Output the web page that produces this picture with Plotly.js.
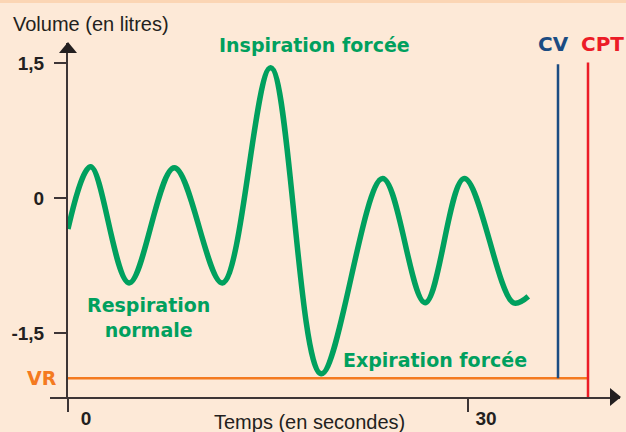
<!DOCTYPE html>
<html>
<head>
<meta charset="utf-8">
<script src="https://cdn.plot.ly/plotly-3.0.1.min.js"></script>
<style>
  html, body { margin: 0; padding: 0; background: #fde9d7; }
  #chart { width: 626px; height: 432px; }
</style>
</head>
<body>
<div id="chart"></div>
<script>
// Temps (s) and Volume (L) of the spirogram curve (turning points)
const timeSec = [0, 1.70, 4.58, 7.97, 11.57, 15.20, 18.98, 23.60, 26.78, 29.72, 33.40, 34.52];
const volumeL = [-0.34, 0.35, -0.94, 0.34, -0.94, 1.45, -1.95, 0.22, -1.16, 0.22, -1.16, -1.09];

// Reference levels
const vrLevel = -2.0;          // volume résiduel
const cvTime = 36.75;          // position of CV bar
const cptTime = 39.0;          // position of CPT bar
const cvRange = [vrLevel, 1.49];
const cptRange = [-2.208, 1.51];
const vrRange = [0, cptTime];

// Axis ticks
const yTickVals = [-1.5, 0, 1.5];
const yTickText = ['-1,5', '0', '1,5'];
const xTickVals = [0, 30];
const xTickText = ['0', '30'];

const AX = '#3d3536';
const TXT = '#231f20';
const GREEN = '#00a05e';
const BG = '#fde9d7';

const traces = [
  { x: vrRange, y: [vrLevel, vrLevel], mode: 'lines', line: { color: '#f47a20', width: 2.5 }, hoverinfo: 'skip' },
  { x: [cvTime, cvTime], y: cvRange, mode: 'lines', line: { color: '#1b4c82', width: 2.5 }, hoverinfo: 'skip' },
  { x: [cptTime, cptTime], y: cptRange, mode: 'lines', line: { color: '#ec1c27', width: 2.5 }, hoverinfo: 'skip' },
  { x: timeSec, y: volumeL, mode: 'lines', line: { color: GREEN, width: 5.5, shape: 'spline', smoothing: 1 }, hoverinfo: 'skip' }
];

// helpers to convert pixel positions (outside plot) to paper coords
const L = 68, R = 620, T = 43, B = 397;
const px = v => (v - L) / (R - L);
const py = v => (B - v) / (B - T);

const boldFont = (size, color) => ({ family: 'DejaVu Sans', size: size, color: color, weight: 'bold' });

const layout = {
  width: 626, height: 432,
  margin: { l: L, r: 626 - R, t: T, b: 432 - B, pad: 0 },
  paper_bgcolor: BG, plot_bgcolor: BG,
  showlegend: false,
  hovermode: false,
  xaxis: {
    range: [0, 41.4], showgrid: false, zeroline: false,
    showline: true, linecolor: AX, linewidth: 2,
    ticks: 'outside', ticklen: 13, tickwidth: 2, tickcolor: AX,
    tickvals: xTickVals, ticktext: xTickText,
    ticklabelshift: 18, ticklabelstandoff: -10,
    tickfont: { family: 'Liberation Sans', size: 19, color: TXT, weight: 'bold' },
    fixedrange: true
  },
  yaxis: {
    range: [-2.208, 1.726], showgrid: false, zeroline: false,
    showline: true, linecolor: AX, linewidth: 2,
    ticks: 'outside', ticklen: 12, tickwidth: 2, tickcolor: AX,
    tickvals: yTickVals, ticktext: yTickText,
    ticklabelstandoff: 6,
    tickfont: { family: 'Liberation Sans', size: 19, color: TXT, weight: 'bold' },
    fixedrange: true
  },
  shapes: [
    { type: 'rect', xref: 'paper', yref: 'paper', x0: px(0), x1: px(626), y0: py(3), y1: py(0), fillcolor: '#fbd5b4', line: { width: 0 } },
    { type: 'path', xref: 'paper', yref: 'paper', path: `M ${px(68)} ${py(42)} L ${px(59)} ${py(53)} L ${px(77)} ${py(53)} Z`, fillcolor: '#231f20', line: { width: 0 } },
    { type: 'path', xref: 'paper', yref: 'paper', path: `M ${px(621)} ${py(397)} L ${px(610)} ${py(388)} L ${px(610)} ${py(406)} Z`, fillcolor: '#231f20', line: { width: 0 } },
    { type: 'line', xref: 'paper', yref: 'paper', x0: px(50), x1: px(68), y0: py(398), y1: py(398), line: { color: AX, width: 2 } }
  ],
  annotations: [
    { text: 'Volume (en litres)', xref: 'paper', yref: 'paper', x: px(11), y: py(24), xanchor: 'left', yanchor: 'middle', showarrow: false, font: { family: 'Liberation Sans', size: 20, color: TXT } },
    { text: 'Temps (en secondes)', xref: 'paper', yref: 'paper', x: px(309.5), y: py(422), xanchor: 'center', yanchor: 'middle', showarrow: false, font: { family: 'Liberation Sans', size: 20, color: TXT } },
    { text: 'Inspiration forcée', x: 18.49, y: 1.709, xanchor: 'center', yanchor: 'middle', showarrow: false, font: boldFont(19, GREEN) },
    { text: 'Respiration<br>normale', x: 6.0, y: -1.32, xanchor: 'center', yanchor: 'middle', align: 'center', showarrow: false, font: boldFont(19, GREEN) },
    { text: 'Expiration forcée', x: 27.53, y: -1.797, xanchor: 'center', yanchor: 'middle', showarrow: false, font: boldFont(19, GREEN) },
    { text: 'CV', x: 36.41, y: 1.714, xanchor: 'center', yanchor: 'middle', showarrow: false, font: boldFont(20, '#1b4c82') },
    { text: 'CPT', x: 40.05, y: 1.714, xanchor: 'center', yanchor: 'middle', showarrow: false, font: boldFont(20, '#ec1c27') },
    { text: 'VR', xref: 'paper', x: px(42), y: vrLevel, xanchor: 'center', yanchor: 'middle', showarrow: false, font: boldFont(19, '#f47a20') }
  ]
};

Plotly.newPlot('chart', traces, layout, { displayModeBar: false, staticPlot: true });
</script>
</body>
</html>
